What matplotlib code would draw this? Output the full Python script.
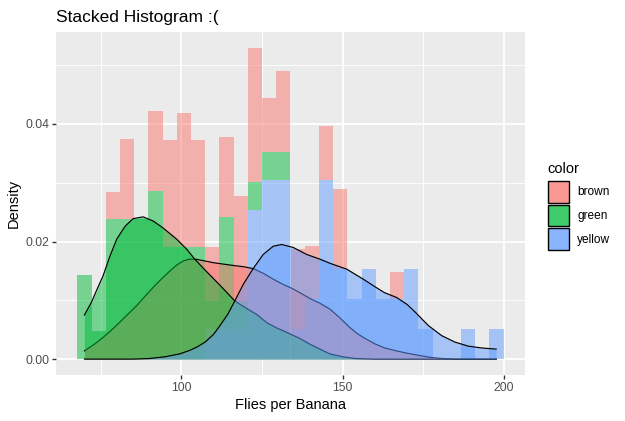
import numpy as np
import matplotlib
matplotlib.use("Agg")
import matplotlib.pyplot as plt
from matplotlib.colors import to_rgba
from matplotlib.patches import Patch
from matplotlib.ticker import MultipleLocator

plt.rcParams["font.family"] = ["Liberation Sans", "DejaVu Sans"]

# --- data -------------------------------------------------------------------
# 30 histogram bins (ggplot default), density per group in each bin
bin_start = 67.8
bin_width = 4.404

groups = ["brown", "green", "yellow"]

brown_hist = [0, 0, 0.0046, 0.0137, 0, 0.0136, 0.0183, 0.0229, 0.0183, 0.0091,
              0.0137, 0.0179, 0.0228, 0.0091, 0.0137, 0.0136, 0.0091, 0.0092, 0.0137, 0,
              0, 0, 0.0046, 0, 0, 0, 0, 0, 0, 0]
green_hist = [0.0143, 0.0048, 0.0238, 0.0238, 0.0238, 0.0286, 0.0190, 0.0190, 0.0190, 0.0048,
              0.0190, 0.0048, 0.0048, 0.0048, 0.0048, 0, 0, 0, 0, 0,
              0, 0, 0, 0, 0, 0, 0, 0, 0, 0]
yellow_hist = [0, 0, 0, 0, 0, 0, 0, 0, 0, 0.0051,
               0.0051, 0.0051, 0.0254, 0.0305, 0.0305, 0.0051, 0.0102, 0.0305, 0.0153, 0.0102,
               0.0153, 0.0102, 0.0102, 0.0153, 0.0051, 0, 0, 0.0051, 0, 0.0051]

# kernel density curves (x, density)
brown_x = [70.0, 73.0, 75.8, 78.5, 81.0, 83.6, 86.2, 88.8, 91.3, 94.0, 96.5, 98.6,
           100.6, 102.5, 104.5, 107.3, 110.0, 113.9, 116.6, 119.5, 122.3, 125.4,
           128.5, 131.6, 133.7, 136.8, 139.9, 143.0, 146.1, 149.2, 152.0, 154.4,
           156.4, 160.0, 163.0, 166.7, 170.0, 173.0, 177.1, 181.0, 185.0, 197.6]
brown_y = [0.0014, 0.0025, 0.0037, 0.0050, 0.0063, 0.0077, 0.0091, 0.0107, 0.0122,
           0.0137, 0.0150, 0.0160, 0.0167, 0.0170, 0.0170, 0.0167, 0.0164, 0.0161,
           0.0159, 0.0157, 0.0154, 0.0146, 0.0136, 0.0127, 0.0122, 0.0113, 0.0103,
           0.0095, 0.0085, 0.0070, 0.0055, 0.0044, 0.0037, 0.0026, 0.0019, 0.0014,
           0.0010, 0.0007, 0.0003, 0.0001, 0.0, 0.0]

green_x = [70.0, 72.2, 74.0, 75.8, 77.9, 80.0, 82.6, 85.1, 88.2, 91.3, 94.4, 98.6,
           101.7, 104.2, 107.3, 110.0, 113.0, 116.6, 120.0, 123.4, 126.5, 129.6,
           133.7, 136.8, 140.0, 143.0, 146.0, 150.0, 154.0, 160.0, 197.6]
green_y = [0.0075, 0.0097, 0.0120, 0.0142, 0.0175, 0.0204, 0.0226, 0.0239, 0.0242,
           0.0235, 0.0223, 0.0204, 0.0187, 0.0170, 0.0152, 0.0137, 0.0120, 0.0099,
           0.0087, 0.0076, 0.0062, 0.0053, 0.0043, 0.0035, 0.0025, 0.0017, 0.0009,
           0.0004, 0.0001, 0.0, 0.0]

yellow_x = [70.0, 85.0, 90.0, 95.0, 99.6, 102.7, 105.0, 107.4, 110.0, 112.0, 114.5,
            116.6, 119.2, 122.3, 125.4, 128.5, 131.1, 134.7, 138.9, 143.0, 146.1,
            151.3, 156.4, 159.5, 163.0, 166.7, 170.0, 172.5, 176.6, 180.7, 184.8,
            189.0, 193.1, 197.6]
yellow_y = [0.0, 0.0, 0.0001, 0.0004, 0.0009, 0.0015, 0.0021, 0.0029, 0.0042, 0.0057,
            0.0077, 0.0099, 0.0127, 0.0154, 0.0178, 0.0192, 0.0195, 0.0190, 0.0178,
            0.0170, 0.0163, 0.0153, 0.0136, 0.0125, 0.0113, 0.0105, 0.0093, 0.0080,
            0.0057, 0.0040, 0.0029, 0.0022, 0.0019, 0.0017]

hue = {"brown": "#F8766D", "green": "#00BA38", "yellow": "#619CFF"}

# --- figure -------------------------------------------------------------------
fig = plt.figure(figsize=(6.25, 4.21), dpi=100)
ax = fig.add_axes([56 / 625, 46.3 / 421, 469 / 625, 342.7 / 421])
ax.set_facecolor("#EBEBEB")

hist = {"brown": np.array(brown_hist), "green": np.array(green_hist),
        "yellow": np.array(yellow_hist)}
lefts = bin_start + bin_width * np.arange(len(brown_hist))

# stacked: first group on top, like position="stack"
bottom = np.zeros(len(lefts))
for g in reversed(groups):
    ax.bar(lefts, hist[g], width=bin_width, bottom=bottom, align="edge",
           color=hue[g], alpha=0.5, linewidth=0, antialiased=False, zorder=2)
    bottom = bottom + hist[g]

curves = {"brown": (brown_x, brown_y), "green": (green_x, green_y),
          "yellow": (yellow_x, yellow_y)}
z = 3
for g in groups:
    cx, cy = curves[g]
    ax.fill_between(cx, 0, cy, color=hue[g], alpha=0.5, linewidth=0, zorder=z)
    ax.plot(cx, cy, color="black", lw=0.85, zorder=z + 1)
    z += 2

lo, hi = lefts[0], lefts[-1] + bin_width
ax.set_xlim(lo - 0.05 * (hi - lo), hi + 0.05 * (hi - lo))
top = bottom.max()
ax.set_ylim(-0.05 * top, 1.05 * top)

ax.xaxis.set_major_locator(MultipleLocator(50))
ax.xaxis.set_minor_locator(MultipleLocator(25))
ax.yaxis.set_major_locator(MultipleLocator(0.02))
ax.yaxis.set_minor_locator(MultipleLocator(0.01))
ax.yaxis.set_major_formatter(lambda v, p: f"{v:.2f}")
ax.grid(which="major", color="white", lw=1.35)
ax.grid(which="minor", color="white", lw=0.68)
ax.set_axisbelow(True)
for s in ax.spines.values():
    s.set_visible(False)
ax.tick_params(which="major", length=2.7, width=1.0, color="#333333",
               labelcolor="#4D4D4D", labelsize=8.7, pad=2.2)
ax.tick_params(which="minor", length=0)

ax.set_xlabel("Flies per Banana", fontsize=10.5, labelpad=3)
ax.set_ylabel("Density", fontsize=10.5, labelpad=3)
ax.set_title("Stacked Histogram :(", loc="left", fontsize=12.5, pad=7.4)

handles = [Patch(facecolor=to_rgba(hue[g], 0.75), edgecolor="black", lw=1.0)
           for g in groups]
leg = fig.legend(handles, groups, title="color", loc="upper left",
                 bbox_to_anchor=(547.5 / 625, 1 - 162 / 421), frameon=False,
                 fontsize=8.6, title_fontsize=10.5, alignment="left",
                 handlelength=1.8, handleheight=2.4, handletextpad=0.68,
                 labelspacing=0.17, borderpad=0, borderaxespad=0)
leg._legend_box.sep = 3.6  # a bit more room under the legend title

fig.savefig("out.png", dpi=100)
